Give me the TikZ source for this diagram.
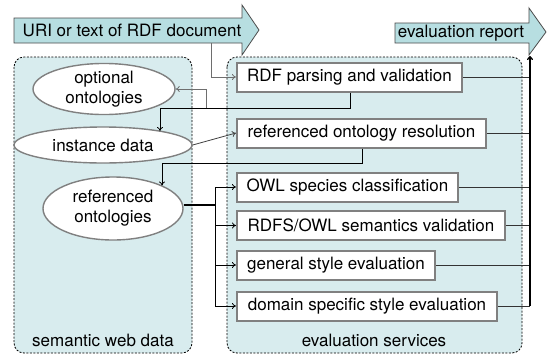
\documentclass[tikz,border=0pt]{standalone}
\usepackage{fontspec}
\setmainfont{TeX Gyre Heros}
\usetikzlibrary{arrows.meta,shapes.geometric}
\definecolor{arrfill}{RGB}{183,222,225}
\definecolor{panfill}{RGB}{216,236,238}
\definecolor{boxgray}{RGB}{128,128,128}
\definecolor{linegray}{RGB}{110,110,110}
\tikzset{
  txt/.style={font=\fontsize{17}{20}\selectfont, inner sep=0pt, align=center},
  panel/.style={draw=black, fill=panfill, dash pattern=on 2pt off 1.5pt, line width=0.8pt, rounded corners=10pt},
  bigarrow/.style={draw=black!70, fill=arrfill, line width=0.8pt},
  svcbox/.style={txt, draw=boxgray, fill=white, line width=2pt, minimum height=29pt},
  dataell/.style={txt, ellipse, draw=boxgray, fill=white, line width=1.4pt},
  conn/.style={line width=0.8pt, -{To[length=4pt,width=6pt]}},
  plain/.style={line width=0.8pt},
}
\begin{document}
\begin{tikzpicture}[x=1pt,y=-1pt]
\useasboundingbox (0,0) rectangle (549,354);
\fill[white] (0,0) rectangle (549,354);
% panels
\draw[panel] (14,57) rectangle (192,353);
\draw[panel] (227,57) rectangle (522,353);
\node[txt] (swd) at (103,340) {semantic web data};
\node[txt] (evs) at (374,340) {evaluation services};
% big arrows
\draw[bigarrow] (14,18) -- (242,18) -- (242,5) -- (259,30) -- (242,55) -- (242,43) -- (14,43) -- cycle;
\node[txt] (uri) at (132,30.5) {URI or text of RDF document};
\coordinate (uriout) at (211,43);
\draw[bigarrow] (395,23) -- (529,23) -- (529,8) -- (546,32) -- (529,55) -- (529,43) -- (395,43) -- cycle;
\node[txt] (rep) at (461,33) {evaluation report};
\coordinate (repin) at (530,56);
% ellipses
\node[dataell, minimum width=142pt, minimum height=42pt] (opt) at (104,89) {optional\\ontologies};
\node[dataell, minimum width=178pt, minimum height=36pt] (inst) at (103,145) {instance data};
\node[dataell, minimum width=140pt, minimum height=63pt] (ref) at (113,208.5) {referenced\\ontologies};
% service boxes
\node[svcbox, minimum width=225pt] (rdf) at (349.5,77) {RDF parsing and validation};
\node[svcbox, minimum width=249pt] (res) at (361.5,133) {referenced ontology resolution};
\node[svcbox, minimum width=221pt] (owl) at (347.5,187) {OWL species classification};
\node[svcbox, minimum width=268pt] (rdfs) at (371,225.5) {RDFS/OWL semantics validation};
\node[svcbox, minimum width=198pt] (gen) at (336,265) {general style evaluation};
\node[svcbox, minimum width=260pt] (dom) at (367,306) {domain specific style evaluation};
% connectors
\draw[conn, linegray] (uriout) |- (rdf.west);
\coordinate (instin) at (160,131);
\coordinate (j1) at (206,108);
\draw[conn] (rdf.south -| 350,0) -- (350,108) -- (160,108) -- (instin);
\draw[conn, linegray] (j1) |- (opt.east);
\draw[conn, black!75] (inst.east) -- (res.west);
\coordinate (refin) at (162,185.5);
\draw[conn] (res.south -| 362,0) -- (362,163) -- (162,163) -- (refin);
\coordinate (fan) at (215,205);
\draw[plain, line width=1.4pt] (ref.east |- fan) -- (fan);
\draw[conn] (fan) |- (owl.west);
\draw[conn] (fan) |- (rdfs.west);
\draw[conn] (fan) |- (gen.west);
\draw[conn] (fan) |- (dom.west);
\coordinate (col) at (530,306);
\draw[plain, black!80] (rdf.east) -- (rdf.east -| col);
\draw[plain, black!80] (res.east) -- (res.east -| col);
\draw[plain, black!80] (owl.east) -- (owl.east -| col);
\draw[plain, black!80] (rdfs.east) -- (rdfs.east -| col);
\draw[plain, black!80] (gen.east) -- (gen.east -| col);
\draw[plain, black!80] (dom.east) -- (col);
\draw[line width=1.3pt, -{To[length=4pt,width=6pt]}] (col) -- (repin);
\end{tikzpicture}
\end{document}
